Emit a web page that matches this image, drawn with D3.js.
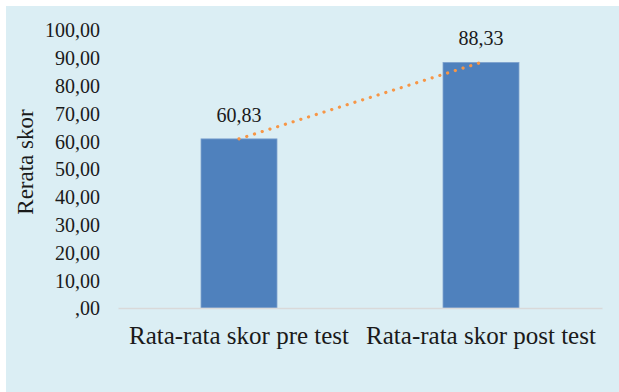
<!DOCTYPE html>
<html>
<head>
<meta charset="utf-8">
<script src="https://cdn.jsdelivr.net/npm/d3@7"></script>
<style>
  html, body { margin: 0; padding: 0; background: #ffffff; }
  svg { display: block; }
</style>
</head>
<body>
<svg id="chart" width="619" height="392"></svg>
<script>
// Average scores before and after the test
const categories = ["Rata-rata skor pre test", "Rata-rata skor post test"];
const scores = [60.83, 88.33];
const valueLabels = ["60,83", "88,33"];
const yTicks = [0, 10, 20, 30, 40, 50, 60, 70, 80, 90, 100];
const yTickLabels = [",00", "10,00", "20,00", "30,00", "40,00", "50,00", "60,00", "70,00", "80,00", "90,00", "100,00"];
const yTitle = "Rerata skor";

const W = 619, H = 392;
const plot = { left: 118, right: 602, top: 30, bottom: 308 };
const FONT = "'Liberation Serif', 'Times New Roman', serif";
const INK = "#1a1a1a";

const svg = d3.select("#chart");

// chart area background
svg.append("rect")
  .attr("x", 6).attr("y", 6)
  .attr("width", W - 6).attr("height", H - 6)
  .attr("fill", "#DBEEF4");

const x = d3.scaleBand()
  .domain(categories)
  .range([plot.left, plot.right])
  .paddingInner(0.686)
  .paddingOuter(0.343);

const y = d3.scaleLinear()
  .domain([0, 100])
  .range([plot.bottom, plot.top]);

// y axis tick labels
const yAxis = d3.axisLeft(y)
  .tickValues(yTicks)
  .tickSize(0)
  .tickPadding(0)
  .tickFormat((d, i) => yTickLabels[i]);

const gy = svg.append("g")
  .attr("transform", `translate(${100},0)`)
  .call(yAxis);
gy.select(".domain").remove();
gy.selectAll("text")
  .style("font-family", FONT)
  .style("font-size", "20px")
  .style("fill", INK)
  .attr("dy", "0.34em");

// bars
svg.append("g").selectAll("rect")
  .data(scores)
  .join("rect")
  .attr("x", (d, i) => x(categories[i]))
  .attr("y", d => y(d))
  .attr("width", x.bandwidth())
  .attr("height", d => y(0) - y(d))
  .attr("fill", "#4F81BD")
  .attr("stroke", "#7EA1CE")
  .attr("stroke-width", 0.8);

// category axis line and labels
const xAxis = d3.axisBottom(x).tickSize(0).tickPadding(0);
const gx = svg.append("g")
  .attr("transform", `translate(0,${plot.bottom})`)
  .call(xAxis);
gx.select(".domain")
  .attr("stroke", "#D9D9D9")
  .attr("stroke-width", 1.5);
gx.selectAll("text")
  .style("font-family", FONT)
  .style("font-size", "25px")
  .style("fill", INK)
  .attr("dy", null)
  .attr("y", 36);

// linear trend line through the bar tops (dotted)
const trend = d3.line()
  .x((d, i) => x(categories[i]) + x.bandwidth() / 2)
  .y(d => y(d));
svg.append("path")
  .datum(scores)
  .attr("d", trend)
  .attr("fill", "none")
  .attr("stroke", "#F79646")
  .attr("stroke-width", 3.2)
  .attr("stroke-linecap", "round")
  .attr("stroke-dasharray", "0.1 8");

// value labels
svg.append("g").selectAll("text")
  .data(scores)
  .join("text")
  .attr("x", (d, i) => x(categories[i]) + x.bandwidth() / 2)
  .attr("y", d => y(d) - 17)
  .attr("text-anchor", "middle")
  .style("font-family", FONT)
  .style("font-size", "20px")
  .style("fill", INK)
  .text((d, i) => valueLabels[i]);

// y axis title
svg.append("text")
  .attr("transform", `translate(33,${(plot.top + plot.bottom) / 2 - 7}) rotate(-90)`)
  .attr("text-anchor", "middle")
  .style("font-family", FONT)
  .style("font-size", "23px")
  .style("fill", INK)
  .text(yTitle);
</script>
</body>
</html>
